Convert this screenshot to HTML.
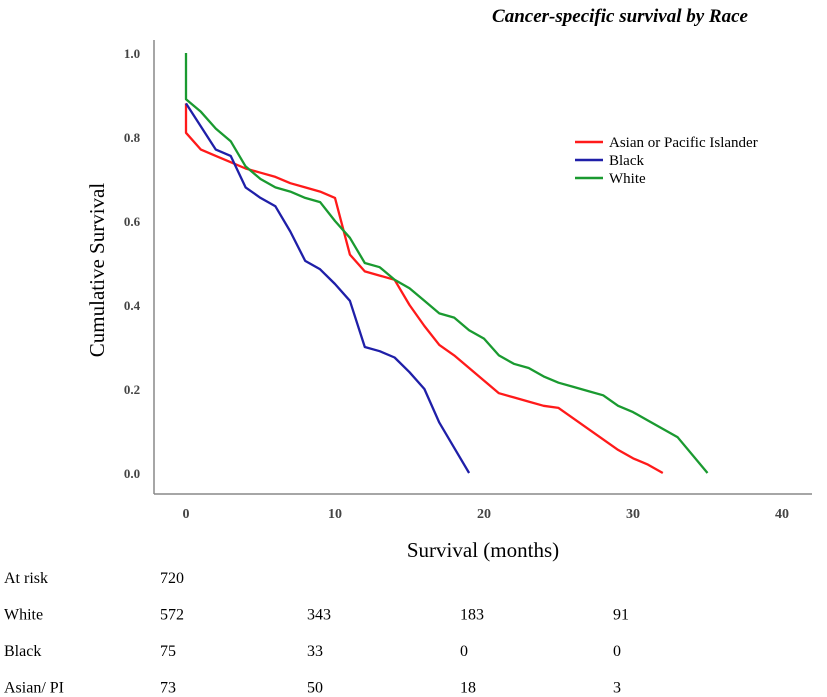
<!DOCTYPE html>
<html><head><meta charset="utf-8"><style>
body{margin:0;background:#fff;}
svg{display:block;font-family:"Liberation Serif",serif;}
</style></head><body>
<svg id="chart" width="827" height="697">
<text x="620" y="22" font-size="19" font-weight="bold" font-style="italic" text-anchor="middle">Cancer-specific survival by Race</text>
<line x1="154" y1="40" x2="154" y2="494" stroke="#888" stroke-width="1.5"/>
<line x1="154" y1="494" x2="812" y2="494" stroke="#888" stroke-width="1.5"/>
<text transform="translate(104,270) rotate(-90)" font-size="21" text-anchor="middle">Cumulative Survival</text>
<text x="483" y="557" font-size="21" text-anchor="middle">Survival (months)</text>
<g id="ticks"></g><g id="lines"></g><g id="legend"></g><g id="table"></g>
</svg>
<script>
const xTicks=[0,10,20,30,40];
const yTicks=[0.0,0.2,0.4,0.6,0.8,1.0];
const seriesNames=["Asian or Pacific Islander","Black","White"];
const seriesColors=["#ff1a1a","#1f1fa8","#1a9a30"];
const redT=[0,0,1,2,3,4,5,6,7,8,9,10,11,12,13,14,15,16,17,18,19,20,21,22,23,24,25,26,27,28,29,30,31,32];
const redS=[0.88,0.81,0.77,0.755,0.74,0.725,0.715,0.705,0.69,0.68,0.67,0.655,0.52,0.48,0.47,0.46,0.40,0.35,0.305,0.28,0.25,0.22,0.19,0.18,0.17,0.16,0.155,0.13,0.105,0.08,0.055,0.035,0.02,0.0];
const blueT=[0,1,2,3,4,5,6,7,8,9,10,11,12,13,14,15,16,17,18,19];
const blueS=[0.88,0.825,0.77,0.755,0.68,0.655,0.635,0.575,0.505,0.485,0.45,0.41,0.30,0.29,0.275,0.24,0.20,0.12,0.06,0.0];
const greenT=[0,0,1,2,3,4,5,6,7,8,9,10,11,12,13,14,15,16,17,18,19,20,21,22,23,24,25,26,27,28,29,30,31,32,33,35];
const greenS=[1.0,0.89,0.86,0.82,0.79,0.73,0.70,0.68,0.67,0.655,0.645,0.60,0.56,0.50,0.49,0.46,0.44,0.41,0.38,0.37,0.34,0.32,0.28,0.26,0.25,0.23,0.215,0.205,0.195,0.185,0.16,0.145,0.125,0.105,0.085,0.0];
const tableRows=["At risk","White","Black","Asian/ PI"];
const tableVals=[["720"],["572","343","183","91"],["75","33","0","0"],["73","50","18","3"]];
const NS="http://www.w3.org/2000/svg";
const xs=v=>186+v*14.9, ys=v=>473-v*420;
function mk(tag,attrs,parent,txt){const e=document.createElementNS(NS,tag);for(const k in attrs)e.setAttribute(k,attrs[k]);if(txt!==undefined)e.textContent=txt;parent.appendChild(e);return e;}
const tk=document.getElementById('ticks');
xTicks.forEach(t=>{const e=mk('text',{x:xs(t),y:518,'font-size':14,'font-weight':'bold','text-anchor':'middle',fill:'#444'},tk,String(t));

});
yTicks.forEach(t=>{const e=mk('text',{x:132,y:ys(t)+5,'font-size':13,'font-weight':'bold','text-anchor':'middle',fill:'#444'},tk,t.toFixed(1));

});
const lg=document.getElementById('lines');
const all=[[redT,redS],[blueT,blueS],[greenT,greenS]];
all.forEach((s,i)=>{const pts=s[0].map((t,j)=>xs(t)+','+ys(s[1][j])).join(' ');
const p=mk('polyline',{points:pts,fill:'none',stroke:seriesColors[i],'stroke-width':2.3,'stroke-linejoin':'round'},lg);

});
const leg=document.getElementById('legend');
seriesNames.forEach((n,i)=>{const y=142+i*18;
const l=mk('line',{x1:575,y1:y,x2:603,y2:y,stroke:seriesColors[i],'stroke-width':2.5},leg);


const t=mk('text',{x:609,y:y+5,'font-size':15},leg,n);

});
const tb=document.getElementById('table');
const colX=[160,307,460,613];
tableRows.forEach((r,i)=>{const y=583+i*36.5;
const t=mk('text',{x:4,y:y,'font-size':16},tb,r);


tableVals[i].forEach((v,j)=>{const c=mk('text',{x:colX[j],y:y,'font-size':16},tb,v);

});});
</script>
</body></html>
